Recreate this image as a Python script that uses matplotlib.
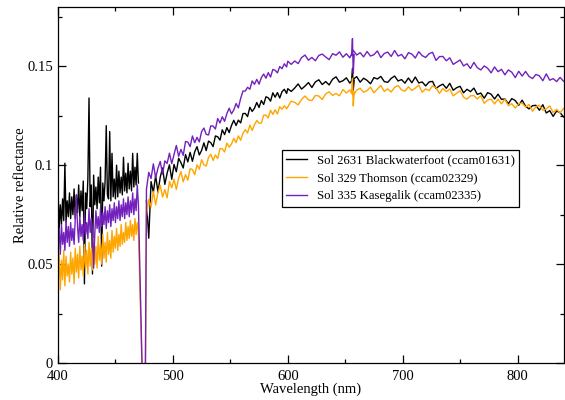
import numpy as np
import matplotlib
matplotlib.use('Agg')
import matplotlib.pyplot as plt
from matplotlib.ticker import MultipleLocator, FuncFormatter

# ---------------- data ----------------
wl_a = np.arange(400, 471, 1)      # 400..470
wl_gap = [473.5, 476.0]            # detector gap (values drop off scale)
wl_b = np.arange(477, 600, 2)      # 477..599
wl_c = np.arange(600, 841, 3)      # 600..840

black_a = [0.088, 0.068, 0.080, 0.070, 0.083, 0.072, 0.101, 0.071, 0.082, 0.074,
           0.086, 0.073, 0.084, 0.075, 0.088, 0.073, 0.085, 0.076, 0.090, 0.074,
           0.087, 0.077, 0.092, 0.040, 0.086, 0.078, 0.093, 0.134, 0.079, 0.090,
           0.045, 0.095, 0.080, 0.089, 0.078, 0.094, 0.081, 0.099, 0.049, 0.091,
           0.082, 0.092, 0.120, 0.085, 0.083, 0.117, 0.082, 0.106, 0.084, 0.093,
           0.083, 0.100, 0.084, 0.097, 0.086, 0.094, 0.085, 0.104, 0.087, 0.096,
           0.086, 0.101, 0.088, 0.097, 0.087, 0.106, 0.089, 0.099, 0.090, 0.106,
           0.091]
black_gap = [np.nan, np.nan]
black_b = [0.0820, 0.0631, 0.0917, 0.0863, 0.0948, 0.0864, 0.0940, 0.0986, 0.0903, 0.0960,
           0.1002, 0.0929, 0.1004, 0.0967, 0.1035, 0.1013, 0.0986, 0.1054, 0.1017, 0.1065,
           0.1020, 0.1068, 0.1094, 0.1052, 0.1075, 0.1113, 0.1074, 0.1122, 0.1114, 0.1094,
           0.1148, 0.1144, 0.1127, 0.1179, 0.1155, 0.1190, 0.1165, 0.1201, 0.1227, 0.1201,
           0.1228, 0.1214, 0.1261, 0.1262, 0.1246, 0.1293, 0.1272, 0.1288, 0.1317, 0.1292,
           0.1327, 0.1307, 0.1346, 0.1341, 0.1324, 0.1366, 0.1344, 0.1367, 0.1340, 0.1372,
           0.1384, 0.1363]
black_c = [0.1387, 0.1373, 0.1390, 0.1411, 0.1385, 0.1400, 0.1418, 0.1393, 0.1421, 0.1432,
           0.1408, 0.1423, 0.1406, 0.1435, 0.1447, 0.1420, 0.1427, 0.1442, 0.1415, 0.1435,
           0.1448, 0.1420, 0.1440, 0.1429, 0.1412, 0.1443, 0.1436, 0.1449, 0.1423, 0.1419,
           0.1439, 0.1451, 0.1426, 0.1433, 0.1415, 0.1441, 0.1417, 0.1446, 0.1416, 0.1421,
           0.1401, 0.1421, 0.1424, 0.1388, 0.1401, 0.1410, 0.1389, 0.1414, 0.1379, 0.1392,
           0.1399, 0.1366, 0.1384, 0.1372, 0.1390, 0.1358, 0.1365, 0.1339, 0.1367, 0.1359,
           0.1335, 0.1359, 0.1333, 0.1335, 0.1311, 0.1337, 0.1327, 0.1303, 0.1329, 0.1298,
           0.1285, 0.1301, 0.1303, 0.1278, 0.1306, 0.1264, 0.1276, 0.1247, 0.1274, 0.1266,
           0.1244]

orange_a = [0.040, 0.055, 0.037, 0.052, 0.042, 0.057, 0.039, 0.054, 0.044, 0.050,
            0.041, 0.056, 0.045, 0.053, 0.040, 0.058, 0.046, 0.055, 0.043, 0.059,
            0.047, 0.054, 0.044, 0.060, 0.048, 0.057, 0.045, 0.061, 0.049, 0.058,
            0.047, 0.063, 0.050, 0.059, 0.048, 0.064, 0.052, 0.060, 0.050, 0.065,
            0.053, 0.061, 0.051, 0.066, 0.055, 0.062, 0.053, 0.067, 0.056, 0.064,
            0.058, 0.068, 0.057, 0.065, 0.059, 0.070, 0.060, 0.066, 0.061, 0.071,
            0.062, 0.069, 0.063, 0.072, 0.064, 0.070, 0.062, 0.073, 0.065, 0.071,
            0.066]
orange_gap = [-0.01, -0.01]
orange_b = [0.0740, 0.0827, 0.0790, 0.0867, 0.0799, 0.0862, 0.0899, 0.0839, 0.0877, 0.0835,
            0.0918, 0.0886, 0.0929, 0.0877, 0.0935, 0.0968, 0.0916, 0.0952, 0.0924, 0.0982,
            0.0978, 0.0952, 0.1002, 0.0980, 0.1028, 0.1002, 0.0996, 0.1039, 0.1056, 0.1024,
            0.1052, 0.1034, 0.1084, 0.1083, 0.1067, 0.1112, 0.1091, 0.1107, 0.1136, 0.1114,
            0.1148, 0.1126, 0.1162, 0.1180, 0.1163, 0.1203, 0.1176, 0.1205, 0.1226, 0.1213,
            0.1213, 0.1253, 0.1253, 0.1239, 0.1278, 0.1257, 0.1280, 0.1259, 0.1296, 0.1283,
            0.1301, 0.1285]
orange_c = [0.1295, 0.1324, 0.1318, 0.1305, 0.1333, 0.1350, 0.1330, 0.1327, 0.1353, 0.1350,
            0.1332, 0.1361, 0.1371, 0.1353, 0.1363, 0.1351, 0.1383, 0.1365, 0.1381, 0.1352,
            0.1380, 0.1389, 0.1369, 0.1377, 0.1395, 0.1366, 0.1385, 0.1403, 0.1373, 0.1386,
            0.1370, 0.1394, 0.1403, 0.1381, 0.1374, 0.1397, 0.1378, 0.1390, 0.1405, 0.1369,
            0.1386, 0.1377, 0.1401, 0.1392, 0.1363, 0.1388, 0.1372, 0.1385, 0.1351, 0.1364,
            0.1377, 0.1344, 0.1334, 0.1351, 0.1352, 0.1335, 0.1352, 0.1313, 0.1330, 0.1334,
            0.1310, 0.1334, 0.1310, 0.1334, 0.1301, 0.1311, 0.1289, 0.1311, 0.1314, 0.1294,
            0.1307, 0.1273, 0.1296, 0.1303, 0.1278, 0.1285, 0.1300, 0.1266, 0.1283, 0.1264,
            0.1287]

purple_a = [0.058, 0.068, 0.055, 0.070, 0.060, 0.066, 0.057, 0.072, 0.061, 0.069,
            0.059, 0.071, 0.062, 0.068, 0.060, 0.073, 0.085, 0.069, 0.061, 0.074,
            0.064, 0.070, 0.062, 0.075, 0.065, 0.071, 0.063, 0.078, 0.066, 0.073,
            0.067, 0.048, 0.065, 0.077, 0.068, 0.074, 0.066, 0.078, 0.069, 0.076,
            0.070, 0.079, 0.068, 0.077, 0.071, 0.080, 0.069, 0.078, 0.072, 0.081,
            0.071, 0.079, 0.073, 0.082, 0.072, 0.080, 0.074, 0.083, 0.073, 0.081,
            0.075, 0.084, 0.074, 0.082, 0.076, 0.086, 0.075, 0.083, 0.077, 0.090,
            0.080]
purple_gap = [-0.01, -0.01]
purple_b = [0.0880, 0.0964, 0.0933, 0.1007, 0.0936, 0.0985, 0.1019, 0.0955, 0.1022, 0.1009,
            0.1061, 0.1008, 0.1055, 0.1100, 0.1045, 0.1080, 0.1050, 0.1120, 0.1117, 0.1094,
            0.1148, 0.1114, 0.1141, 0.1118, 0.1170, 0.1188, 0.1156, 0.1153, 0.1199, 0.1198,
            0.1183, 0.1236, 0.1214, 0.1245, 0.1222, 0.1261, 0.1288, 0.1260, 0.1279, 0.1312,
            0.1290, 0.1338, 0.1375, 0.1375, 0.1394, 0.1384, 0.1426, 0.1409, 0.1434, 0.1410,
            0.1443, 0.1461, 0.1440, 0.1468, 0.1446, 0.1484, 0.1480, 0.1467, 0.1499, 0.1488,
            0.1513, 0.1497]
purple_c = [0.1526, 0.1510, 0.1527, 0.1514, 0.1544, 0.1557, 0.1531, 0.1545, 0.1528, 0.1555,
            0.1562, 0.1547, 0.1534, 0.1564, 0.1556, 0.1573, 0.1546, 0.1564, 0.1543, 0.1581,
            0.1557, 0.1569, 0.1548, 0.1575, 0.1552, 0.1559, 0.1578, 0.1544, 0.1565, 0.1572,
            0.1550, 0.1580, 0.1552, 0.1560, 0.1538, 0.1569, 0.1562, 0.1542, 0.1574, 0.1554,
            0.1545, 0.1564, 0.1571, 0.1530, 0.1549, 0.1550, 0.1528, 0.1543, 0.1510, 0.1521,
            0.1532, 0.1502, 0.1513, 0.1489, 0.1520, 0.1493, 0.1482, 0.1502, 0.1490, 0.1467,
            0.1497, 0.1473, 0.1485, 0.1457, 0.1482, 0.1470, 0.1443, 0.1475, 0.1451, 0.1474,
            0.1449, 0.1438, 0.1459, 0.1452, 0.1427, 0.1462, 0.1430, 0.1438, 0.1423, 0.1444,
            0.1425]

# narrow artefact near 656 nm
spike_wl = [655.5, 656.3, 657.0, 657.8]
black_spike = [0.1425, 0.1490, 0.1380, 0.1430]
orange_spike = [0.1365, 0.1440, 0.1300, 0.1370]
purple_spike = [0.1555, 0.1640, 0.1465, 0.1560]

labels = ["Sol 2631 Blackwaterfoot (ccam01631)",
          "Sol 329 Thomson (ccam02329)",
          "Sol 335 Kasegalik (ccam02335)"]
colors = ["#000000", "#FFA500", "#7221BC"]

# ---------------- plot ----------------
plt.rcParams['font.family'] = ['Liberation Serif', 'DejaVu Serif']

fig = plt.figure(figsize=(5.65, 4.0), dpi=100)
ax = fig.add_axes([58 / 565, 37 / 400, 505.5 / 565, 356 / 400])

wl_all = np.concatenate([wl_a, wl_gap, wl_b, wl_c])
series = [
    np.concatenate([black_a, black_gap, black_b, black_c]),
    np.concatenate([orange_a, orange_gap, orange_b, orange_c]),
    np.concatenate([purple_a, purple_gap, purple_b, purple_c]),
]
spikes = [black_spike, orange_spike, purple_spike]

for vals, sp, col, lab in zip(series, spikes, colors, labels):
    ax.plot(wl_all, vals, color=col, lw=1.0, label=lab)
    ax.plot(spike_wl, sp, color=col, lw=1.0)

ax.set_xlim(400, 840)
ax.set_ylim(0, 0.18)
ax.xaxis.set_major_locator(MultipleLocator(100))
ax.xaxis.set_minor_locator(MultipleLocator(50))
ax.yaxis.set_major_locator(MultipleLocator(0.05))
ax.yaxis.set_minor_locator(MultipleLocator(0.025))
ax.yaxis.set_major_formatter(FuncFormatter(lambda v, p: '%g' % round(v, 3)))
ax.tick_params(which='both', direction='in', top=True, right=True,
               labelsize=10.5, width=0.9, colors='black')
ax.tick_params(which='major', length=6)
ax.tick_params(which='minor', length=3)
ax.tick_params(axis='x', which='both', pad=5)
for s in ax.spines.values():
    s.set_linewidth(0.9)

ax.set_xlabel('Wavelength (nm)', fontsize=10.5, labelpad=0)
ax.set_ylabel('Relative reflectance', fontsize=10.5, labelpad=0)

leg = ax.legend(loc='upper left', bbox_to_anchor=(0.443, 0.598), fontsize=9.2,
                frameon=True, fancybox=False, edgecolor='black', framealpha=1,
                borderpad=0.35, labelspacing=0.45, handlelength=1.6,
                handletextpad=0.8, borderaxespad=0)
leg.get_frame().set_linewidth(0.9)

fig.savefig('out.png', dpi=100)
